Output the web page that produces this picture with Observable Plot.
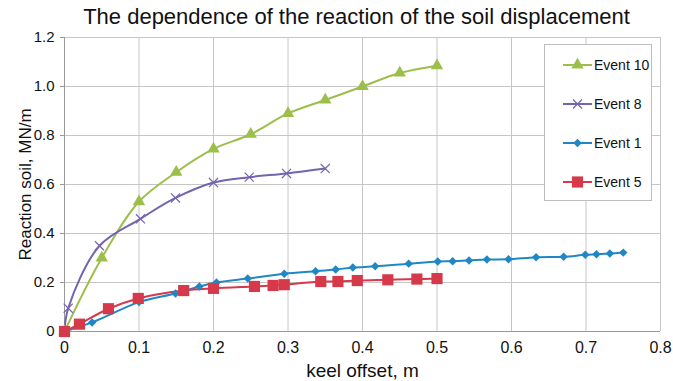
<!DOCTYPE html>
<html><head><meta charset="utf-8">
<script src="https://cdn.jsdelivr.net/npm/d3@7"></script>
<script src="https://cdn.jsdelivr.net/npm/@observablehq/plot@0.6"></script>
<style>
body{margin:0;background:#fff;font-family:"Liberation Sans",Arial,sans-serif;}
#wrap{position:relative;width:673px;height:381px;overflow:hidden;}
#title{position:absolute;left:0;top:2px;width:673px;box-sizing:border-box;height:30px;line-height:30px;text-align:center;font-size:22px;color:#111;padding-left:40px;white-space:nowrap;}
#chart{position:absolute;left:0;top:30px;}
#legend{position:absolute;left:544px;top:44px;width:108px;height:157px;border:1px solid #bdbdbd;background:#fff;box-sizing:border-box;}
.item{position:absolute;left:16px;height:20px;display:flex;align-items:center;font-size:14px;color:#111;}
.item svg{margin-right:1px;}
svg text{font-family:"Liberation Sans",Arial,sans-serif;}
g[aria-label="y-axis label"] text{font-size:17px;fill:#111;}
g[aria-label="x-axis label"] text{font-size:19px;fill:#111;}
g[aria-label="x-axis tick label"] text{font-size:16px;}
g[aria-label="y-axis tick label"] text{font-size:15px;}
</style></head><body>
<div id="wrap"><div id="title">The dependence of the reaction of the soil displacement</div><div id="chart"></div><div id="legend"></div></div>
<script>
// Data
const seriesNames = ["Event 10", "Event 8", "Event 1", "Event 5"];
const event10X = [0, 0.05, 0.1, 0.15, 0.2, 0.25, 0.3, 0.35, 0.4, 0.45, 0.5];
const event10Y = [0, 0.30, 0.53, 0.65, 0.745, 0.805, 0.89, 0.945, 1.0, 1.055, 1.085];
const event8X = [0, 0.005, 0.047, 0.102, 0.149, 0.2, 0.248, 0.298, 0.35];
const event8Y = [0, 0.095, 0.35, 0.46, 0.545, 0.608, 0.63, 0.645, 0.665];
const event1X = [0, 0.037, 0.1, 0.149, 0.181, 0.204, 0.246, 0.295, 0.337, 0.364, 0.387, 0.417, 0.462, 0.501, 0.521, 0.543, 0.567, 0.596, 0.633, 0.670, 0.699, 0.714, 0.732, 0.750];
const event1Y = [0, 0.037, 0.12, 0.155, 0.184, 0.2, 0.216, 0.236, 0.246, 0.253, 0.261, 0.266, 0.277, 0.286, 0.287, 0.29, 0.294, 0.295, 0.303, 0.305, 0.313, 0.315, 0.318, 0.322];
const event5X = [0, 0.02, 0.059, 0.099, 0.16, 0.2, 0.255, 0.28, 0.295, 0.344, 0.367, 0.393, 0.434, 0.473, 0.5];
const event5Y = [0, 0.03, 0.093, 0.135, 0.167, 0.176, 0.184, 0.188, 0.191, 0.204, 0.204, 0.208, 0.211, 0.214, 0.216];
const xTicks = [0, 0.1, 0.2, 0.3, 0.4, 0.5, 0.6, 0.7, 0.8];
const yTicks = [0, 0.2, 0.4, 0.6, 0.8, 1.0, 1.2];

const colors = {"Event 10": "#9bbf4a", "Event 8": "#7464b0", "Event 1": "#1f87c6", "Event 5": "#d63a4a"};
const symbols = {"Event 10": "triangle", "Event 8": "times", "Event 1": "diamond2", "Event 5": "square"};
const radius = {"Event 10": 4.6, "Event 8": 4.2, "Event 1": 3.8, "Event 5": 6.3};

const table = (name, xs, ys) => xs.map((x, i) => ({series: name, x, y: ys[i]}));
const data = {
  "Event 10": table("Event 10", event10X, event10Y),
  "Event 8": table("Event 8", event8X, event8Y),
  "Event 1": table("Event 1", event1X, event1Y),
  "Event 5": table("Event 5", event5X, event5Y)
};

const fmt = d => d === 0 ? "0" : d3.format(".1f")(d);
const marks = [
  Plot.gridX(xTicks, {stroke: "#c6c6c6", strokeOpacity: 1}),
  Plot.gridY(yTicks, {stroke: "#c6c6c6", strokeOpacity: 1}),
  Plot.ruleX([0], {stroke: "#999"}),
  Plot.ruleY([0], {stroke: "#999"}),
  Plot.axisX({ticks: xTicks, tickSize: 0, tickPadding: 10, tickFormat: fmt, label: "keel offset, m", labelAnchor: "center", labelArrow: "none", labelOffset: 45}),
  Plot.axisY({ticks: yTicks, tickSize: 4, tickPadding: 6, stroke: "#999", tickFormat: fmt, label: "Reaction soil, MN/m", labelAnchor: "center", labelArrow: "none", labelOffset: 46})
];
for (const name of seriesNames) {
  marks.push(Plot.line(data[name], {x: "x", y: "y", stroke: colors[name], strokeWidth: 2, curve: "catmull-rom"}));
}
for (const name of seriesNames) {
  const sym = symbols[name];
  const isStroke = sym === "times";
  marks.push(Plot.dot(data[name], {x: "x", y: "y", symbol: () => sym, r: radius[name],
    fill: isStroke ? "none" : colors[name], stroke: isStroke ? colors[name] : "none", strokeWidth: isStroke ? 1.2 : 0}));
}

const chart = Plot.plot({
  width: 673, height: 351,
  marginLeft: 64, marginRight: 13, marginTop: 7, marginBottom: 50,
  x: {domain: [0, 0.8]},
  y: {domain: [0, 1.2]},
  style: {fontFamily: "Liberation Sans, Arial, sans-serif", color: "#111", background: "transparent", overflow: "visible"},
  marks
});
document.getElementById("chart").appendChild(chart);

// legend
const legend = document.getElementById("legend");
const tops = [10, 49, 88, 127];
const d3sym = {"Event 10": d3.symbolTriangle, "Event 8": d3.symbolTimes, "Event 1": d3.symbolDiamond2, "Event 5": d3.symbolSquare};
seriesNames.forEach((name, i) => {
  const item = document.createElement("div");
  item.className = "item";
  item.style.top = tops[i] + "px";
  const svg = d3.create("svg").attr("width", 32).attr("height", 20);
  svg.append("line").attr("x1", 2).attr("x2", 31).attr("y1", 10).attr("y2", 10).attr("stroke", colors[name]).attr("stroke-width", 2);
  const r = radius[name];
  const p = svg.append("path").attr("transform", "translate(16.5,10)").attr("d", d3.symbol(d3sym[name], Math.PI * r * r)());
  if (name === "Event 8") p.attr("fill", "none").attr("stroke", colors[name]).attr("stroke-width", 1.2);
  else p.attr("fill", colors[name]);
  item.appendChild(svg.node());
  const t = document.createElement("span");
  t.textContent = name;
  item.appendChild(t);
  legend.appendChild(item);
});
</script>
</body></html>
